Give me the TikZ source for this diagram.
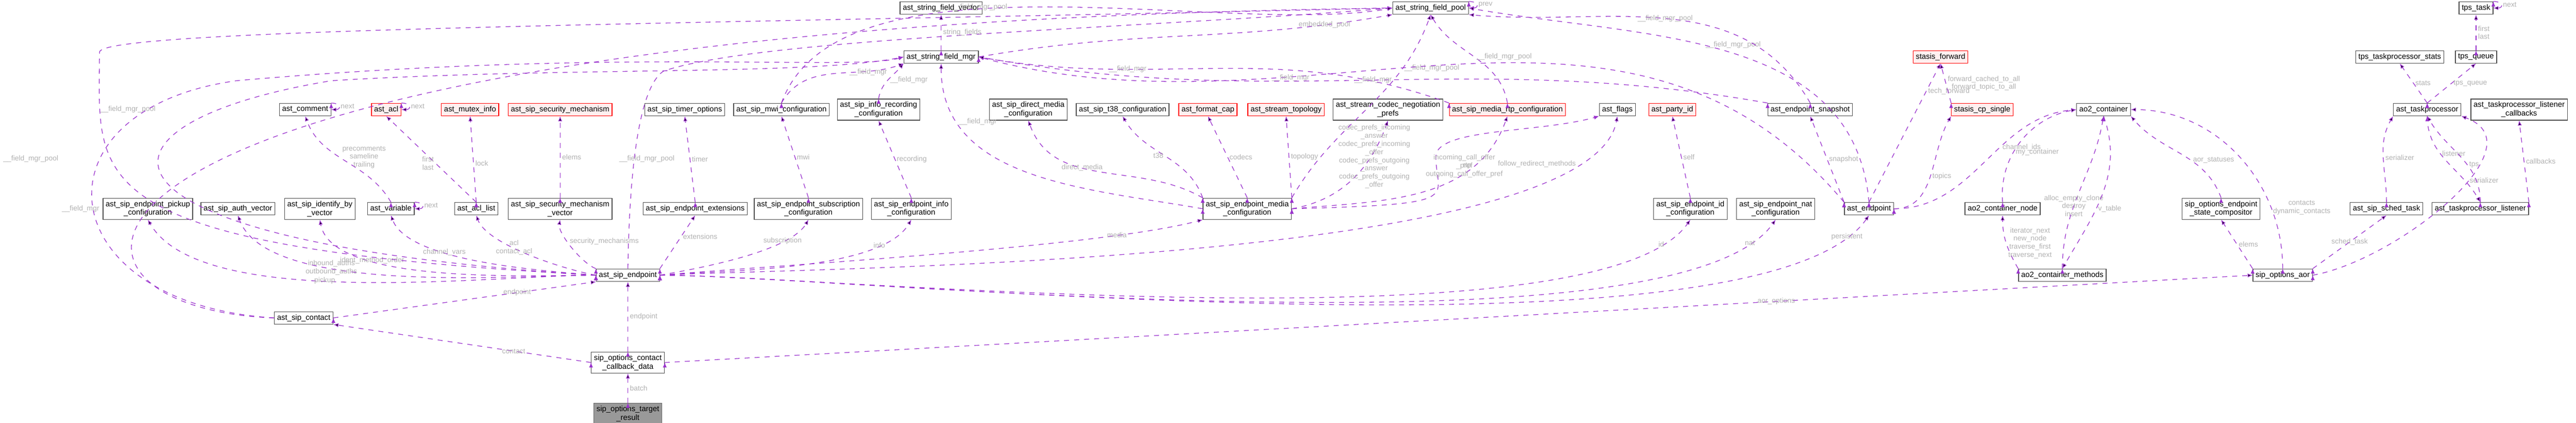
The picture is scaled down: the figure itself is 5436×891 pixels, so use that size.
\documentclass[tikz,border=0pt]{standalone}
\usepackage{fontspec}
\setmainfont{Liberation Sans}
\usetikzlibrary{arrows.meta, positioning, calc}
\definecolor{lnk}{HTML}{9A32CD}
\definecolor{lblc}{HTML}{B0B0B0}
\tikzset{
    x=0.01cm, y=-0.01cm,
    box/.style = {draw=black!70, fill=white, font=\fontsize{4.6}{5.2}\selectfont, inner sep=1.6pt, minimum height=0.26cm, align=center}, % plain class box
    redbox/.style = {box, draw=red, fill=red!6},
    rootbox/.style = {box, draw=black!60, fill=black!40},
    link/.style = {draw=lnk, dashed, thin, -{Latex[length=3pt,width=2.4pt]}, fill=none},
    lbl/.style = {text=lblc, font=\fontsize{4.3}{4.9}\selectfont, align=center, inner sep=1pt, fill=none, draw=none}
}
\begin{document}
\begin{tikzpicture}
    \useasboundingbox (0,0) rectangle (5436,891);
    % top rows
    \node[box] (sfvec) at (1986,17) {ast\_string\_field\_vector};
    \node[box] (sfpool) at (3019,17) {ast\_string\_field\_pool};
    \node[box] (tpstask) at (5225,17) {tps\_task};
    \node[box] (sfmgr) at (1986,120) {ast\_string\_field\_mgr};
    \node[redbox] (stfwd) at (4095,120) {stasis\_forward};
    \node[box] (tpsstats) at (5064,120) {tps\_taskprocessor\_stats};
    \node[box] (tpsqueue) at (5225,120) {tps\_queue};
    % third row
    \node[box] (comment) at (644,231) {ast\_comment};
    \node[redbox] (acl) at (815,231) {ast\_acl};
    \node[redbox] (mutex) at (992,231) {ast\_mutex\_info};
    \node[redbox] (secmech) at (1182,231) {ast\_sip\_security\_mechanism};
    \node[box] (timer) at (1445,231) {ast\_sip\_timer\_options};
    \node[box] (mwi) at (1649,231) {ast\_sip\_mwi\_configuration};
    \node[box] (recording) at (1854,231) {ast\_sip\_info\_recording\\\_configuration};
    \node[box] (dmedia) at (2170,231) {ast\_sip\_direct\_media\\\_configuration};
    \node[box] (t38) at (2369,231) {ast\_sip\_t38\_configuration};
    \node[redbox] (fmtcap) at (2549,231) {ast\_format\_cap};
    \node[redbox] (topo) at (2714,231) {ast\_stream\_topology};
    \node[box] (codecneg) at (2929,231) {ast\_stream\_codec\_negotiation\\\_prefs};
    \node[redbox] (rtp) at (3181,231) {ast\_sip\_media\_rtp\_configuration};
    \node[box] (flags) at (3413,231) {ast\_flags};
    \node[redbox] (partyid) at (3529,231) {ast\_party\_id};
    \node[box] (snapshot) at (3820,231) {ast\_endpoint\_snapshot};
    \node[redbox] (cpsingle) at (4183,231) {stasis\_cp\_single};
    \node[box] (ao2) at (4439,231) {ao2\_container};
    \node[box] (tproc) at (5122,231) {ast\_taskprocessor};
    \node[box] (tpcb) at (5316,231) {ast\_taskprocessor\_listener\\\_callbacks};
    % fourth row
    \node[box] (pickup) at (312,440) {ast\_sip\_endpoint\_pickup\\\_configuration};
    \node[box] (authvec) at (502,440) {ast\_sip\_auth\_vector};
    \node[box] (identvec) at (675,440) {ast\_sip\_identify\_by\\\_vector};
    \node[box] (variable) at (825,440) {ast\_variable};
    \node[box] (acllist) at (1005,440) {ast\_acl\_list};
    \node[box] (secvec) at (1182,440) {ast\_sip\_security\_mechanism\\\_vector};
    \node[box] (ext) at (1467,440) {ast\_sip\_endpoint\_extensions};
    \node[box] (subscr) at (1706,440) {ast\_sip\_endpoint\_subscription\\\_configuration};
    \node[box] (info) at (1923,440) {ast\_sip\_endpoint\_info\\\_configuration};
    \node[box] (media) at (2632,440) {ast\_sip\_endpoint\_media\\\_configuration};
    \node[box] (idcfg) at (3567,440) {ast\_sip\_endpoint\_id\\\_configuration};
    \node[box] (natcfg) at (3747,440) {ast\_sip\_endpoint\_nat\\\_configuration};
    \node[box] (astep) at (3944,440) {ast\_endpoint};
    \node[box] (ao2node) at (4226,440) {ao2\_container\_node};
    \node[box] (comp) at (4687,440) {sip\_options\_endpoint\\\_state\_compositor};
    \node[box] (sched) at (5036,440) {ast\_sip\_sched\_task};
    \node[box] (tplist) at (5234,440) {ast\_taskprocessor\_listener};
    % lower rows
    \node[box] (sipep) at (1325,580) {ast\_sip\_endpoint};
    \node[box] (ao2meth) at (4352,580) {ao2\_container\_methods};
    \node[box] (aor) at (4817,580) {sip\_options\_aor};
    \node[box] (contact) at (641,670) {ast\_sip\_contact};
    \node[box] (cbdata) at (1325,764) {sip\_options\_contact\\\_callback\_data};
    \node[rootbox] (result) at (1325,872) {sip\_options\_target\\\_result};

    % self references
    \path[link] (comment.north east) edge[out=0,in=0,looseness=4] node[lbl,right] {next} (comment.east);
    \path[link] (acl.north east) edge[out=0,in=0,looseness=4] node[lbl,right] {next} (acl.east);
    \path[link] (variable.north east) edge[out=0,in=0,looseness=4] node[lbl,right] {next} (variable.east);
    \path[link] (sfpool.north east) edge[out=0,in=0,looseness=4] node[lbl,right] {prev} (sfpool.east);
    \path[link] (tpstask.north east) edge[out=0,in=0,looseness=4] node[lbl,right] {next} (tpstask.east);

    % ast_sip_endpoint members
    \path[link] (sipep.west) edge[out=180,in=300,looseness=0.6] node[lbl,pos=0.55] {pickup} (pickup.south);
    \path[link] (sipep.west) edge[out=180,in=290,looseness=0.6] node[lbl,pos=0.65] {inbound\_auths\\outbound\_auths} (authvec.south);
    \path[link] (sipep.west) edge[out=180,in=280,looseness=0.6] node[lbl,pos=0.7] {ident\_method\_order} (identvec.south);
    \path[link] (sipep.west) edge[out=175,in=290,looseness=0.6] node[lbl,pos=0.65] {channel\_vars} (variable.south);
    \path[link] (sipep.west) edge[out=170,in=290,looseness=0.6] node[lbl,pos=0.6] {acl\\contact\_acl} (acllist.south);
    \path[link] (sipep.north west) edge[out=160,in=260,looseness=0.6] node[lbl,pos=0.6,right] {security\_mechanisms} (secvec.south);
    \path[link] (sipep.north east) edge node[lbl,pos=0.6,right] {extensions} (ext.south);
    \path[link] (sipep.east) edge[out=10,in=240,looseness=0.6] node[lbl,pos=0.75] {subscription} (subscr.south);
    \path[link] (sipep.east) edge[out=5,in=240,looseness=0.6] node[lbl,pos=0.8] {info} (info.south);
    \path[link] (sipep.east) edge[out=5,in=195,looseness=0.5] node[lbl,pos=0.8] {media} (media.south west);
    \path[link] (sipep.east) edge[out=3,in=260,looseness=0.4] node[lbl,pos=0.88,left] {follow\_redirect\_methods} (flags.south);
    \path[link] (sipep.east) edge[out=0,in=235,looseness=0.4] node[lbl,pos=0.93] {id} (idcfg.south);
    \path[link] (sipep.east) edge[out=0,in=235,looseness=0.4] node[lbl,pos=0.94] {nat} (natcfg.south);
    \path[link] (sipep.east) edge[out=0,in=235,looseness=0.4] node[lbl,pos=0.95] {persistent} (astep.south);
    \draw[link] (sipep.north) .. controls (1330,250) and (1370,170) .. (1400,150) .. controls (1600,80) and (2400,60) .. (sfpool.west);
    \node[lbl] (lfmp0) at (1365,335) {\_\_field\_mgr\_pool};
    \draw[link] (sipep.west) .. controls (150,520) and (210,380) .. (210,110) .. controls (210,60) and (1500,50) .. (sfpool.west);
    \node[lbl] (lfmp1) at (270,230) {\_\_field\_mgr\_pool};
    \draw[link] (sipep.west) .. controls (130,510) and (150,260) .. (700,170) .. controls (1200,140) and (1700,160) .. (sfmgr.west);
    \node[lbl] (lfm1) at (170,440) {\_\_field\_mgr};

    % ast_sip_contact
    \path[link] (contact.east) edge node[lbl,pos=0.7] {endpoint} (sipep.south west);
    \draw[link] (contact.west) .. controls (0,650) and (0,55) .. (sfpool.west);
    \node[lbl] (lfmp2) at (65,335) {\_\_field\_mgr\_pool};
    \draw[link] (contact.west) .. controls (100,640) and (60,230) .. (500,170) .. controls (1300,100) and (1800,150) .. (sfmgr.west);

    % callback data and result
    \path[link] (cbdata.west) edge node[lbl,pos=0.3] {contact} (contact.south east);
    \path[link] (cbdata.north) edge node[lbl,right] {endpoint} (sipep.south);
    \path[link] (cbdata.east) edge node[lbl,pos=0.7] {aor\_options} (aor.west);
    \path[link] (result.north) edge node[lbl,right] {batch} (cbdata.south);

    % small structures
    \path[link] (variable.north) edge[out=120,in=290] node[lbl,pos=0.55,right] {precomments\\sameline\\trailing} (comment.south);
    \path[link] (acllist.north) edge node[lbl,pos=0.45,left] {first\\last} (acl.south);
    \path[link] (acllist.north) edge node[lbl,pos=0.45,right] {lock} (mutex.south);
    \path[link] (secvec.north) edge node[lbl,right] {elems} (secmech.south);
    \path[link] (ext.north) edge node[lbl,right] {timer} (timer.south);
    \path[link] (subscr.north) edge node[lbl,right] {mwi} (mwi.south);
    \path[link] (info.north) edge node[lbl,right] {recording} (recording.south);
    \path[link] (mwi.north) edge[out=60,in=200] node[lbl,pos=0.6,right] {\_\_field\_mgr} (sfmgr.south west);
    \path[link] (mwi.north) edge[out=70,in=190,looseness=0.7] node[lbl,pos=0.45,left] {\_\_field\_mgr\_pool} (sfpool.west);
    \path[link] (recording.north) edge[out=80,in=230] node[lbl,right] {\_\_field\_mgr} (sfmgr.south west);
    \path[link] (sfmgr.north) edge node[lbl,right] {string\_fields} (sfvec.south);
    \path[link] (sfmgr.east) edge[out=10,in=190] node[lbl,pos=0.85] {embedded\_pool} (sfpool.south west);

    % media configuration
    \path[link] (media.west) edge[out=170,in=270] node[lbl,pos=0.8,right] {\_\_field\_mgr} (sfmgr.south);
    \path[link] (media.north west) edge[out=150,in=290] node[lbl,pos=0.6] {direct\_media} (dmedia.south);
    \path[link] (media.north west) edge[out=110,in=300] node[lbl,pos=0.5,left] {t38} (t38.south);
    \path[link] (media.north) edge node[lbl,pos=0.5,right] {codecs} (fmtcap.south);
    \path[link] (media.north east) edge node[lbl,pos=0.5,right] {topology} (topo.south);
    \path[link] (media.east) edge[out=10,in=250] (codecneg.south);
    \node[lbl] (lcodec) at (2900,330) {codec\_prefs\_incoming\\\_answer\\codec\_prefs\_incoming\\\_offer\\codec\_prefs\_outgoing\\\_answer\\codec\_prefs\_outgoing\\\_offer};
    \path[link] (media.east) edge[out=5,in=250] node[lbl,pos=0.75,left] {rtp} (rtp.south);
    \draw[link] (media.east) .. controls (3100,430) and (3030,420) .. (3030,330) .. controls (3030,270) and (3250,280) .. (flags.south west);
    \node[lbl] (lcop) at (3090,350) {incoming\_call\_offer\\\_pref\\outgoing\_call\_offer\_pref};
    \path[link] (media.north east) edge[out=60,in=250] node[lbl,pos=0.75,right] {\_\_field\_mgr\_pool} (sfpool.south);
    \path[link] (rtp.north) edge[out=100,in=300] node[lbl,right] {\_\_field\_mgr\_pool} (sfpool.south);
    \path[link] (rtp.north west) edge[out=160,in=350] node[lbl,pos=0.7] {\_\_field\_mgr} (sfmgr.east);
    \path[link] (idcfg.north) edge node[lbl,right] {self} (partyid.south);

    % ast_endpoint
    \path[link] (astep.north) edge[out=95,in=350] node[lbl,pos=0.55,right] {\_\_field\_mgr\_pool} (sfpool.east);
    \path[link] (astep.north west) edge[out=130,in=345] node[lbl,pos=0.7,right] {\_\_field\_mgr} (sfmgr.east);
    \path[link] (astep.north west) edge node[lbl,right] {snapshot} (snapshot.south);
    \path[link] (astep.north) edge node[lbl,pos=0.8,right] {tech\_forward} (stfwd.south);
    \path[link] (astep.east) edge[out=0,in=240] node[lbl,pos=0.5,right] {topics} (cpsingle.south west);
    \path[link] (astep.east) edge[out=0,in=185] node[lbl,pos=0.6,right] {channel\_ids} (ao2.west);
    \path[link] (snapshot.north) edge[out=120,in=355] node[lbl,pos=0.5] {\_\_field\_mgr\_pool} (sfpool.south east);
    \path[link] (snapshot.north west) edge[out=170,in=350] node[lbl,pos=0.5] {\_\_field\_mgr} (sfmgr.east);
    \path[link] (cpsingle.north west) edge node[lbl,right] {forward\_cached\_to\_all\\forward\_topic\_to\_all} (stfwd.south);

    % ao2 container
    \path[link] (ao2node.north) edge[out=95,in=190] node[lbl,pos=0.4,right] {my\_container} (ao2.west);
    \path[link] (ao2meth.north) edge[out=90,in=260] node[lbl,pos=0.4] {alloc\_empty\_clone\\destroy\\insert} (ao2.south);
    \path[link] (ao2.south) edge[out=290,in=60] node[lbl,pos=0.6,right] {v\_table} (ao2meth.north);
    \path[link] (ao2meth.north west) edge[out=120,in=270] node[lbl,pos=0.5,right] {iterator\_next\\new\_node\\traverse\_first\\traverse\_next} (ao2node.south);
    \path[link] (comp.north) edge[out=110,in=310] node[lbl,pos=0.4,right] {aor\_statuses} (ao2.south east);
    \path[link] (aor.north) edge[out=90,in=0] node[lbl,pos=0.25,right] {contacts\\dynamic\_contacts} (ao2.east);
    \path[link] (aor.north west) edge node[lbl,right] {elems} (comp.south);
    \path[link] (aor.north east) edge node[lbl] {sched\_task} (sched.south);
    \path[link] (aor.east) edge[out=10,in=340] node[lbl,pos=0.6,right] {serializer} (tproc.south east);

    % taskprocessor
    \path[link] (sched.north) edge[out=90,in=240] node[lbl,right] {serializer} (tproc.south west);
    \path[link] (tproc.north) edge node[lbl,right] {stats} (tpsstats.south);
    \path[link] (tproc.north) edge node[lbl,right] {tps\_queue} (tpsqueue.south);
    \path[link] (tpsqueue.north) edge node[lbl,right] {first\\last} (tpstask.south);
    \path[link] (tproc.south) edge[out=270,in=120] node[lbl,right,pos=0.4] {listener} (tplist.north);
    \path[link] (tplist.north) edge[out=90,in=300] node[lbl,right,pos=0.4] {tps} (tproc.south);
    \path[link] (tplist.north east) edge node[lbl,right] {callbacks} (tpcb.south);
\end{tikzpicture}
\end{document}
